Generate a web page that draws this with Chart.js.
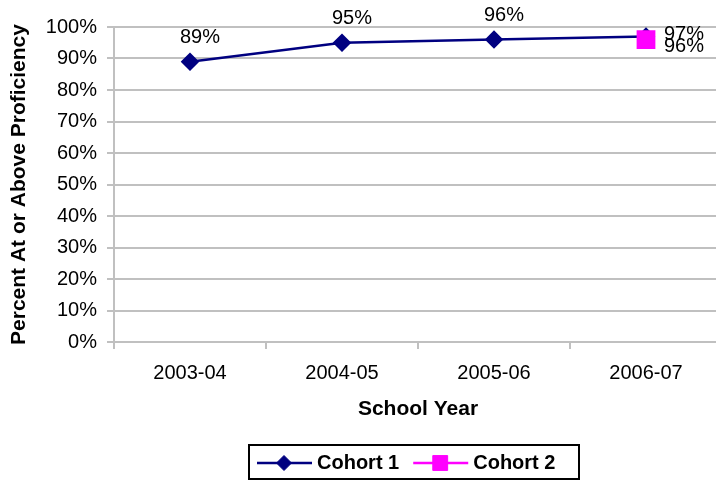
<!DOCTYPE html>
<html>
<head>
<meta charset="utf-8">
<script src="https://cdn.jsdelivr.net/npm/chart.js@4/dist/chart.umd.min.js"></script>
<style>
  html, body { margin: 0; padding: 0; background: #fff; overflow: hidden; }
  canvas { display: block; }
</style>
</head>
<body>
<canvas id="chart" width="724" height="480"></canvas>
<script>
const years = ['2003-04', '2004-05', '2005-06', '2006-07'];
const cohort1 = [89, 95, 96, 97];
const cohort2 = [null, null, null, 96];
const yTicks = [0, 10, 20, 30, 40, 50, 60, 70, 80, 90, 100];

const gridGray = '#c0c0c0';
const fontFamily = '"Liberation Sans", Arial, sans-serif';

// point labels: above the point, except the last year which goes to the right
const valueLabels = {
    id: 'valueLabels',
    afterDatasetsDraw(chart) {
        const ctx = chart.ctx;
        ctx.save();
        ctx.font = '20px ' + fontFamily;
        ctx.fillStyle = '#000';
        ctx.textBaseline = 'middle';
        chart.data.datasets.forEach(function(ds, di) {
            const meta = chart.getDatasetMeta(di);
            meta.data.forEach(function(pt, i) {
                const v = ds.data[i];
                if (v === null) return;
                const txt = v + '%';
                if (i === ds.data.length - 1) {
                    ctx.textAlign = 'left';
                    ctx.fillText(txt, pt.x + 18, pt.y + (di === 0 ? -2 : 7));
                } else {
                    ctx.textAlign = 'center';
                    ctx.fillText(txt, pt.x + 10, pt.y - 24);
                }
            });
        });
        ctx.restore();
    }
};

// boxed legend with line + marker samples
const boxLegend = {
    id: 'boxLegend',
    afterDraw(chart) {
        const ctx = chart.ctx;
        const a = chart.chartArea;
        const boxW = 330, boxH = 34;
        const bx = Math.round((a.left + a.right) / 2 - 4 - boxW / 2);
        const by = 445;
        ctx.save();
        ctx.strokeStyle = '#000';
        ctx.lineWidth = 2;
        ctx.strokeRect(bx, by, boxW, boxH);
        ctx.font = 'bold 20px ' + fontFamily;
        ctx.textBaseline = 'middle';
        ctx.textAlign = 'left';
        let x = bx + 8;
        const cy = by + 18;
        chart.data.datasets.forEach(function(ds) {
            ctx.strokeStyle = ds.borderColor;
            ctx.lineWidth = 2.5;
            ctx.beginPath();
            ctx.moveTo(x, cy);
            ctx.lineTo(x + 55, cy);
            ctx.stroke();
            ctx.fillStyle = ds.pointBackgroundColor;
            ctx.strokeStyle = ds.pointBorderColor;
            ctx.lineWidth = 1;
            Chart.helpers.drawPoint(ctx, {
                pointStyle: ds.pointStyle,
                radius: ds.pointStyle === 'rect' ? 10.5 : ds.pointRadius,
                borderWidth: 1
            }, x + 27, cy);
            ctx.fillStyle = '#000';
            ctx.fillText(ds.label, x + 60, cy);
            x += 60 + ctx.measureText(ds.label).width + 14;
        });
        ctx.restore();
    }
};

const data = {
    labels: years,
    datasets: [
        {
            label: 'Cohort 1',
            data: cohort1,
            order: 1,
            borderColor: '#000080',
            backgroundColor: '#000080',
            pointBackgroundColor: '#000080',
            pointBorderColor: '#000080',
            borderWidth: 2.5,
            pointStyle: 'rectRot',
            pointRadius: 7.5,
            tension: 0
        },
        {
            label: 'Cohort 2',
            data: cohort2,
            order: 0,
            borderColor: '#ff00ff',
            backgroundColor: '#ff00ff',
            pointBackgroundColor: '#ff00ff',
            pointBorderColor: '#ff00ff',
            borderWidth: 2.5,
            pointStyle: 'rect',
            pointRadius: 11.5,
            tension: 0
        }
    ]
};

const options = {
    responsive: false,
    animation: false,
    layout: {
        autoPadding: false,
        padding: { top: 27, left: 0, right: 2, bottom: 58 }
    },
    plugins: {
        legend: { display: false },
        tooltip: { enabled: false }
    },
    scales: {
        x: {
            offset: true,
            grid: {
                offset: true,
                drawOnChartArea: false,
                drawTicks: true,
                tickLength: 7,
                color: gridGray,
                lineWidth: 2
            },
            border: { display: true, color: gridGray, width: 2 },
            ticks: {
                color: '#000',
                padding: 12,
                maxRotation: 0,
                font: { family: fontFamily, size: 20 }
            },
            title: {
                display: true,
                text: 'School Year',
                color: '#000',
                padding: { top: 0, bottom: 0 },
                font: { family: fontFamily, size: 21, weight: 'bold' }
            },
            afterFit(scale) { scale.height = 80; }
        },
        y: {
            min: 0,
            max: 100,
            afterBuildTicks(scale) {
                scale.ticks = yTicks.map(function(v) { return { value: v }; });
            },
            grid: {
                color: gridGray,
                lineWidth: 2,
                drawTicks: true,
                tickLength: 7
            },
            border: { display: true, color: gridGray, width: 2 },
            ticks: {
                color: '#000',
                padding: 10,
                font: { family: fontFamily, size: 20 },
                callback: function(v) { return v + '%'; }
            },
            title: {
                display: true,
                text: 'Percent At or Above Proficiency',
                color: '#000',
                padding: { top: 7, bottom: 0 },
                font: { family: fontFamily, size: 21, weight: 'bold' }
            },
            afterFit(scale) { scale.width = 114; }
        }
    }
};

new Chart(document.getElementById('chart'), {
    type: 'line',
    data: data,
    options: options,
    plugins: [valueLabels, boxLegend]
});
</script>
</body>
</html>
